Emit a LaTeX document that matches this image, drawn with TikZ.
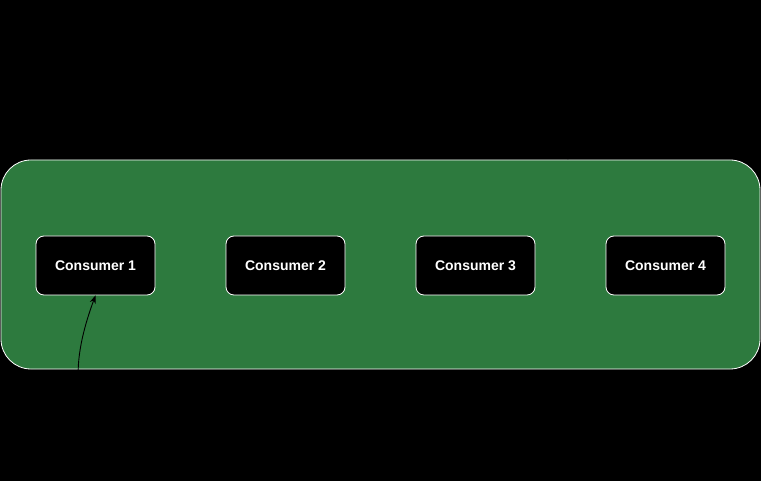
\documentclass[tikz,border=0pt]{standalone}
\usepackage{fontspec}
\setmainfont{Liberation Sans}
\usetikzlibrary{arrows.meta}
\definecolor{grp}{RGB}{45,122,62}
\begin{document}
\begin{tikzpicture}[x=1pt,y=-1pt,
  consumer/.style={draw=white,fill=black,rounded corners=8pt,minimum width=119pt,minimum height=59pt,text=white,font=\bfseries\fontsize{14}{16}\selectfont,line width=0.8pt},
  hidden/.style={text=black,font=\fontsize{11}{13}\selectfont,align=center},
  conn/.style={draw=black,line width=0.9pt,-{Stealth[length=8pt,width=6pt]}}]
\useasboundingbox (0,0) rectangle (761,481);
\fill[black] (0,0) rectangle (761,481);
\node[draw=white,fill=grp,rounded corners=30pt,minimum width=759pt,minimum height=209pt,line width=0.8pt] (group) at (380.5,264.5) {};
\node[consumer] (c1) at (95.5,265.5) {Consumer 1};
\node[consumer] (c2) at (285.5,265.5) {Consumer 2};
\node[consumer] (c3) at (475.5,265.5) {Consumer 3};
\node[consumer] (c4) at (665.5,265.5) {Consumer 4};
\node[hidden,font=\fontsize{15}{17}\selectfont] (glabel) at (380,130) {Consumer Group};
\node[hidden] (topic) at (632,31) {Kafka\\Topic};
\node[hidden] (poll) at (150,449) {Poll\\Messages};
\draw[conn] (poll.west) .. controls (72,420) and (68,370) .. (c1.south);
\draw[conn] (topic.west) .. controls (555,40) and (560,100) .. (group.north -| 568,0);
\end{tikzpicture}
\end{document}
